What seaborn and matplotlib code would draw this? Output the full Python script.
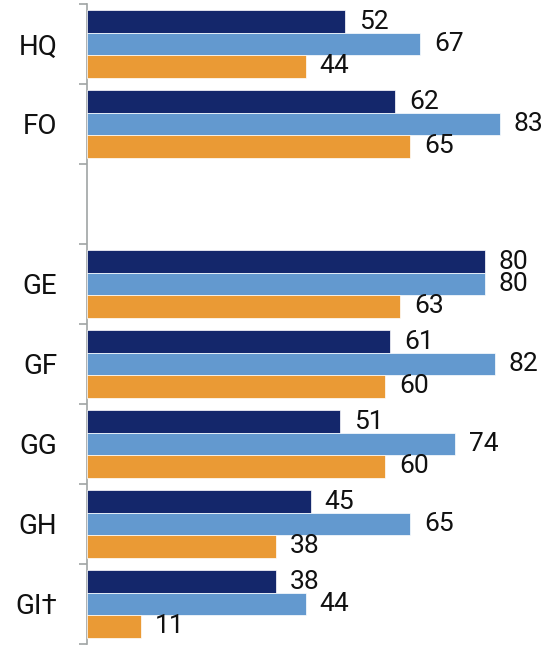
import numpy as np
import pandas as pd
import seaborn as sns
import matplotlib.pyplot as plt
from matplotlib.ticker import FixedLocator

# sites, with one empty slot between the office rows and the G rows
sites = ["HQ", "FO", " ", "GE", "GF", "GG", "GH", "GI\u2020"]
series_names = ["Series 1", "Series 2", "Series 3"]
series1 = [52, 62, None, 80, 61, 51, 45, 38]
series2 = [67, 83, None, 80, 82, 74, 65, 44]
series3 = [44, 65, None, 63, 60, 60, 38, 11]
colors = ["#14276B", "#6399CF", "#EA9A35"]

rows = []
for name, vals in zip(series_names, [series1, series2, series3]):
    for s, v in zip(sites, vals):
        if v is not None:
            rows.append({"site": s, "series": name, "value": v})
df = pd.DataFrame(rows)

sns.set_style("white")
plt.rcParams["font.family"] = ["Roboto", "DejaVu Sans"]

fig = plt.figure(figsize=(5.45, 6.46), dpi=100)
ax = fig.add_axes([86.5 / 545, 2 / 646, 1 - 86.5 / 545, 640 / 646])

sns.barplot(data=df, y="site", x="value", hue="series", order=sites,
            hue_order=series_names, palette=colors, saturation=1,
            width=0.84, orient="h", edgecolor="white", linewidth=0.5,
            legend=False, ax=ax, zorder=3)

for c in ax.containers:
    ax.bar_label(c, fmt="%d", padding=10, fontsize=19, color="#111111")

ax.set_xlim(0, (545 - 86.5) / 4.98)
ax.set_ylim(len(sites) - 0.5, -0.5)
ax.set_xlabel("")
ax.set_ylabel("")
ax.set_xticks([])

for side in ["top", "right", "bottom"]:
    ax.spines[side].set_visible(False)
ax.spines["left"].set_color("#A0A4A4")
ax.spines["left"].set_linewidth(1.2)

ax.yaxis.set_minor_locator(FixedLocator(np.arange(-0.5, len(sites), 1.0)))
ax.tick_params(axis="y", which="major", length=0, pad=21, labelsize=20,
               labelcolor="#111111")
ax.tick_params(axis="y", which="minor", length=6, width=1.2,
               color="#A0A4A4", direction="out", left=True)

fig.savefig("out.png", dpi=100)
